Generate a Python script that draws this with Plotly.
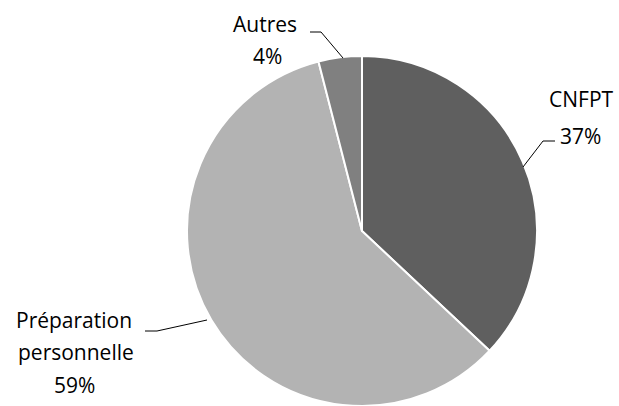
import plotly.graph_objects as go

categories = ["CNFPT", "Préparation personnelle", "Autres"]
values = [37, 59, 4]
colors = ["#5f5f5f", "#b3b3b3", "#808080"]

W, H = 619, 406

def px(x):
    return x / W

def py(y):
    return 1 - y / H

fig = go.Figure(go.Pie(
    labels=categories,
    values=values,
    sort=False,
    direction="clockwise",
    rotation=0,
    marker=dict(colors=colors, line=dict(color="white", width=2)),
    textinfo="none",
    hoverinfo="label+percent",
    showlegend=False,
    domain=dict(x=[px(362 - 200), px(362 + 200)], y=[0, py(56)]),
))

font = dict(family="Open Sans, sans-serif", size=21, color="#000000")

label_lines = [
    ("Autres", 265, 24), ("4%", 267, 56),
    ("CNFPT", 581, 99), ("37%", 580, 136),
    ("Préparation", 74, 320), ("personnelle", 76, 352), ("59%", 74, 385),
]
annotations = [
    dict(text=t, x=px(x), y=py(y), xref="paper", yref="paper",
         showarrow=False, xanchor="center", yanchor="middle", font=font)
    for t, x, y in label_lines
]

leaders = [
    [(310, 32), (321, 32), (343, 58)],
    [(555, 141), (543, 141), (523, 167)],
    [(145, 331), (157, 331), (207, 320)],
]
shapes = []
for pts in leaders:
    path = "M " + " L ".join(f"{px(x)} {py(y)}" for x, y in pts)
    shapes.append(dict(type="path", path=path, xref="paper", yref="paper",
                       line=dict(color="#000000", width=1)))

fig.update_layout(
    width=W, height=H,
    margin=dict(l=0, r=0, t=0, b=0),
    paper_bgcolor="white", plot_bgcolor="white",
    annotations=annotations, shapes=shapes,
)

fig.write_html("out.html", config={"displayModeBar": False},
               post_script="document.body.style.margin='0';")
